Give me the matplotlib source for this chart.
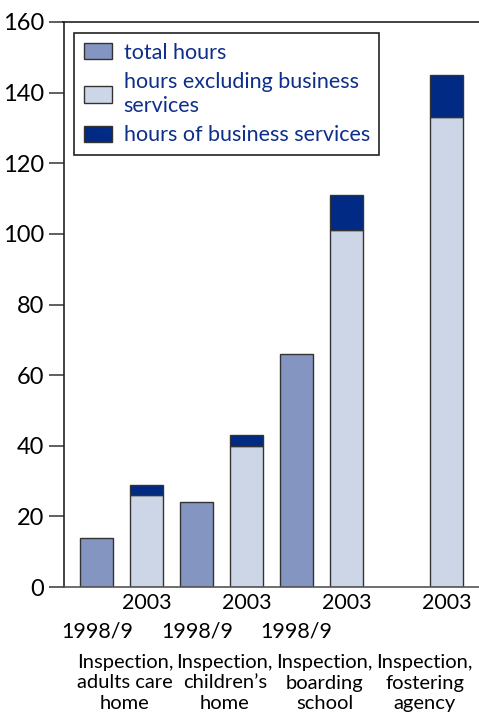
import matplotlib.pyplot as plt
from matplotlib.patches import Patch
from matplotlib.transforms import blended_transform_factory

plt.rcParams['font.family'] = ['Lato', 'DejaVu Sans']

# data
groups = ['Inspection,\nadults care\nhome', 'Inspection,\nchildren\u2019s\nhome',
          'Inspection,\nboarding\nschool', 'Inspection,\nfostering\nagency']
total_1998 = [14, 24, 66, None]
excl_2003 = [26, 40, 101, 133]
business_2003 = [3, 3, 10, 12]
year_old = '1998/9'
year_new = '2003'
legend_labels = ['total hours', 'hours excluding business\nservices', 'hours of business services']

c_total = '#8395c0'
c_excl = '#cdd6e6'
c_bus = '#002a84'
c_text = '#0d2f8a'

fig = plt.figure(figsize=(4.79, 7.18), dpi=100)
ax = fig.add_axes([63.5 / 479, (718 - 587) / 718, 1 - 63.5 / 479, 565 / 718])

w = 0.66
for i in range(len(groups)):
    x_old = 2 * i
    x_new = 2 * i + 1
    if total_1998[i] is not None:
        ax.bar(x_old, total_1998[i], width=w, color=c_total, edgecolor='#333333', linewidth=1)
    ax.bar(x_new, excl_2003[i], width=w, color=c_excl, edgecolor='#333333', linewidth=1)
    ax.bar(x_new, business_2003[i], bottom=excl_2003[i], width=w, color=c_bus,
           edgecolor='#333333', linewidth=1)

ax.set_xlim(-0.67, 7.65)
ax.set_ylim(0, 160)
ax.set_yticks(range(0, 161, 20))
ax.tick_params(axis='y', length=11, width=1.2, labelsize=17, pad=3, color='#444444')
ax.set_xticks([])
for s in ['left', 'bottom', 'top']:
    ax.spines[s].set_linewidth(1.2)
    ax.spines[s].set_color('#222222')
ax.spines['bottom'].set_color('#555555')
ax.spines['right'].set_visible(False)

trans = blended_transform_factory(ax.transData, ax.transAxes)
for i in range(len(groups)):
    ax.text(2 * i + 1, -16 / 565, year_new, transform=trans, ha='center', va='center',
            fontsize=15.5, clip_on=False)
    if total_1998[i] is not None:
        ax.text(2 * i, -44 / 565, year_old, transform=trans, ha='center', va='center',
                fontsize=15.5, clip_on=False)
    ax.text(2 * i + 0.56, -67 / 565, groups[i], transform=trans, ha='center', va='top',
            fontsize=14.5, linespacing=1.25, clip_on=False)

handles = [Patch(facecolor=c_total, edgecolor='#333333'),
           Patch(facecolor=c_excl, edgecolor='#333333'),
           Patch(facecolor=c_bus, edgecolor='#333333')]
leg = fig.legend(handles, legend_labels, loc='upper left',
                 bbox_to_anchor=(74 / 479, 1 - 33 / 718), fontsize=15.5,
                 fancybox=False, edgecolor='#222222', framealpha=1,
                 handlelength=1.3, handleheight=0.8, handletextpad=0.55,
                 labelspacing=0.45, borderpad=0.45, borderaxespad=0,
                 labelcolor=c_text)
for t in leg.get_texts():
    t.set_linespacing(1.2)
leg.get_frame().set_linewidth(1.2)

fig.savefig('out.png', dpi=100)
